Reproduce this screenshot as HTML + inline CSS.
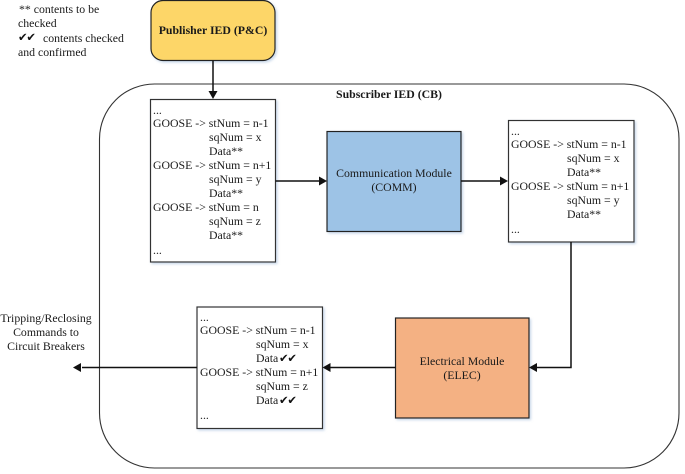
<!DOCTYPE html>
<html><head><meta charset="utf-8"><style>
html,body{margin:0;padding:0;background:#fff}
svg{display:block}
text{font-family:"Liberation Serif",serif;font-size:11.8px;fill:#1a1a1a}
.c{font-family:"DejaVu Sans",sans-serif;font-size:11.5px;fill:#111;letter-spacing:-1.2px}
</style></head><body>
<svg width="685" height="474" viewBox="0 0 685 474" xmlns="http://www.w3.org/2000/svg">
<defs><filter id="s" x="-10%" y="-10%" width="125%" height="125%"><feDropShadow dx="1.5" dy="1.5" stdDeviation="1.2" flood-color="#9db8d8" flood-opacity=".55"/></filter></defs>
<rect x="99.5" y="84" width="579.5" height="384" rx="55" fill="#fff" stroke="#333" stroke-width="1.1"/>
<rect x="151" y="0.5" width="124" height="60" rx="12" fill="#fdd668" stroke="#222" stroke-width="1.2" filter="url(#s)"/>
<rect x="150.5" y="99.5" width="125" height="162.5" fill="#fff" stroke="#333" stroke-width="1.2" filter="url(#s)"/>
<rect x="327" y="131.5" width="134" height="100" fill="#9dc3e6" stroke="#222" stroke-width="1.2" filter="url(#s)"/>
<rect x="508.5" y="120.5" width="125.5" height="121.5" fill="#fff" stroke="#333" stroke-width="1.2" filter="url(#s)"/>
<rect x="197" y="307" width="125.5" height="121.5" fill="#fff" stroke="#333" stroke-width="1.2" filter="url(#s)"/>
<rect x="395.5" y="318" width="133.5" height="100" fill="#f4b183" stroke="#222" stroke-width="1.2" filter="url(#s)"/>
<g stroke="#111" stroke-width="1.5" fill="none">
<path d="M213 60.5V92"/><path d="M275.5 181H320"/><path d="M461 181H502"/>
<path d="M571 242V367.5H536"/><path d="M395.5 367.5H329"/><path d="M197 367.5H82"/>
</g>
<g fill="#111">
<path d="M213 99l-4.5-8h9z"/><path d="M327 181l-8-4.5v9z"/><path d="M508 181l-8-4.5v9z"/>
<path d="M529 367.5l8-4.5v9z"/><path d="M322.5 367.5l8-4.5v9z"/><path d="M73 367.5l8-4.5v9z"/>
</g>
<text x="19" y="13">** contents to be</text>
<text x="18" y="27">checked</text>
<text class="c" x="18" y="41">✔✔</text>
<text x="43" y="42">contents checked</text>
<text x="18" y="56">and confirmed</text>
<text x="213" y="34" text-anchor="middle" style="font-weight:bold">Publisher IED (P&amp;C)</text>
<text x="389" y="98" text-anchor="middle" style="font-weight:bold">Subscriber IED (CB)</text>
<text x="394" y="177" text-anchor="middle">Communication Module</text>
<text x="394" y="191" text-anchor="middle">(COMM)</text>
<text x="462" y="365" text-anchor="middle">Electrical Module</text>
<text x="462" y="379" text-anchor="middle">(ELEC)</text>
<text x="46" y="322" text-anchor="middle">Tripping/Reclosing</text>
<text x="46" y="336" text-anchor="middle">Commands to</text>
<text x="46" y="350" text-anchor="middle">Circuit Breakers</text>
<text x="153" y="114">...</text>
<text x="153" y="127">GOOSE -&gt; stNum = n-1</text>
<text x="209" y="141">sqNum = x</text>
<text x="209" y="155">Data**</text>
<text x="153" y="169">GOOSE -&gt; stNum = n+1</text>
<text x="209" y="183">sqNum = y</text>
<text x="209" y="197">Data**</text>
<text x="153" y="211">GOOSE -&gt; stNum = n</text>
<text x="209" y="225">sqNum = z</text>
<text x="209" y="239">Data**</text>
<text x="153" y="254">...</text>
<text x="511" y="135">...</text>
<text x="511" y="148">GOOSE -&gt; stNum = n-1</text>
<text x="567" y="162">sqNum = x</text>
<text x="567" y="176">Data**</text>
<text x="511" y="190">GOOSE -&gt; stNum = n+1</text>
<text x="567" y="204">sqNum = y</text>
<text x="567" y="218">Data**</text>
<text x="511" y="233">...</text>
<text x="200" y="321">...</text>
<text x="200" y="334">GOOSE -&gt; stNum = n-1</text>
<text x="256" y="348">sqNum = x</text>
<text x="256" y="362">Data</text>
<text class="c" x="279" y="362">✔✔</text>
<text x="200" y="376">GOOSE -&gt; stNum = n+1</text>
<text x="256" y="390">sqNum = z</text>
<text x="256" y="404">Data</text>
<text class="c" x="279" y="404">✔✔</text>
<text x="200" y="419">...</text>
</svg>
</body></html>
